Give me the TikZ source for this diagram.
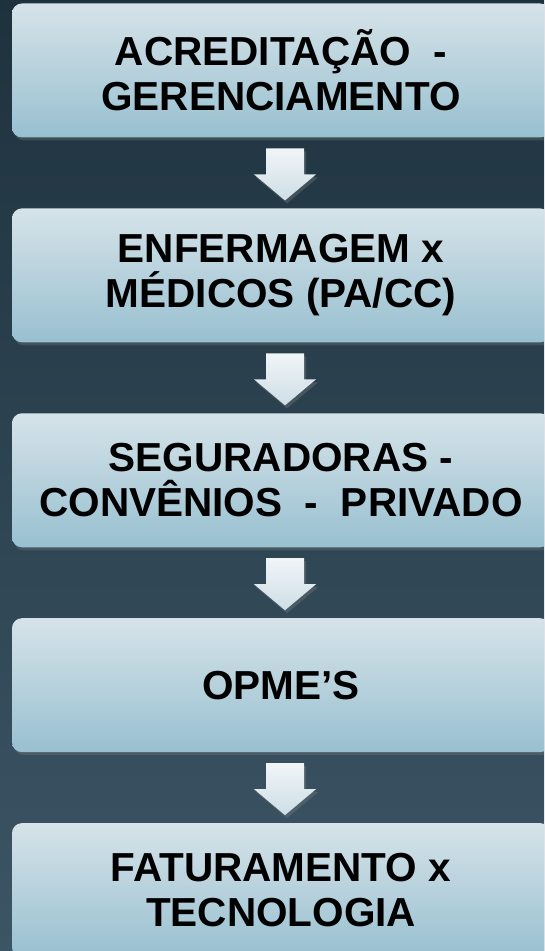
\documentclass[tikz,border=0pt]{standalone}
\usepackage{fontspec}
\setmainfont{Liberation Sans}
\usetikzlibrary{positioning,calc,shadows}
\definecolor{bgtop}{RGB}{30, 50, 62}
\definecolor{bgbottom}{RGB}{60, 85, 101}
\definecolor{boxtop}{RGB}{214, 227, 233}
\definecolor{boxbottom}{RGB}{152, 192, 208}
\definecolor{arrowtop}{RGB}{240, 245, 247}
\definecolor{arrowbottom}{RGB}{206, 222, 230}

\begin{document}
\begin{tikzpicture}[
    x=1pt, y=1pt,
    node distance=70.5pt,
    every node/.style={align=center},
    stagebox/.style={rectangle, rounded corners=10pt, minimum width=538pt, minimum height=134pt, inner sep=0pt, top color=boxtop, bottom color=boxbottom, drop shadow={opacity=0.3, shadow xshift=2pt, shadow yshift=-3pt}, font=\fontsize{40.5}{45}\selectfont\bfseries},
    flowarrow/.style={top color=arrowtop, bottom color=arrowbottom, drop shadow={opacity=0.35, shadow xshift=2pt, shadow yshift=-3pt}}
]

% Background
\shade[top color=bgtop, bottom color=bgbottom] (0,0) rectangle (544,951);
\clip (0,0) rectangle (544,951);

% Stages
\node[stagebox] (s1) at (281,880.5) {ACREDITAÇÃO~~-\\GERENCIAMENTO};
\node[stagebox, below=of s1] (s2) {ENFERMAGEM x\\MÉDICOS (PA/CC)};
\node[stagebox, below=of s2] (s3) {SEGURADORAS -\\CONVÊNIOS~~-~~PRIVADO};
\node[stagebox, below=of s3] (s4) {OPME’S};
\node[stagebox, below=of s4] (s5) {FATURAMENTO x\\TECNOLOGIA};

% Arrows
\foreach \a/\b in {s1/s2, s2/s3, s3/s4, s4/s5} {
    \coordinate (m) at ($(\a.south)!0.5!(\b.north)+(4,-1.5)$);
    \path[flowarrow] ($(m)+(-19,26)$) -- ($(m)+(19,26)$) -- ($(m)+(19,0)$) -- ($(m)+(31,0)$)
        -- ($(m)+(0,-26)$) -- ($(m)+(-31,0)$) -- ($(m)+(-19,0)$) -- cycle;
}

\end{tikzpicture}
\end{document}
